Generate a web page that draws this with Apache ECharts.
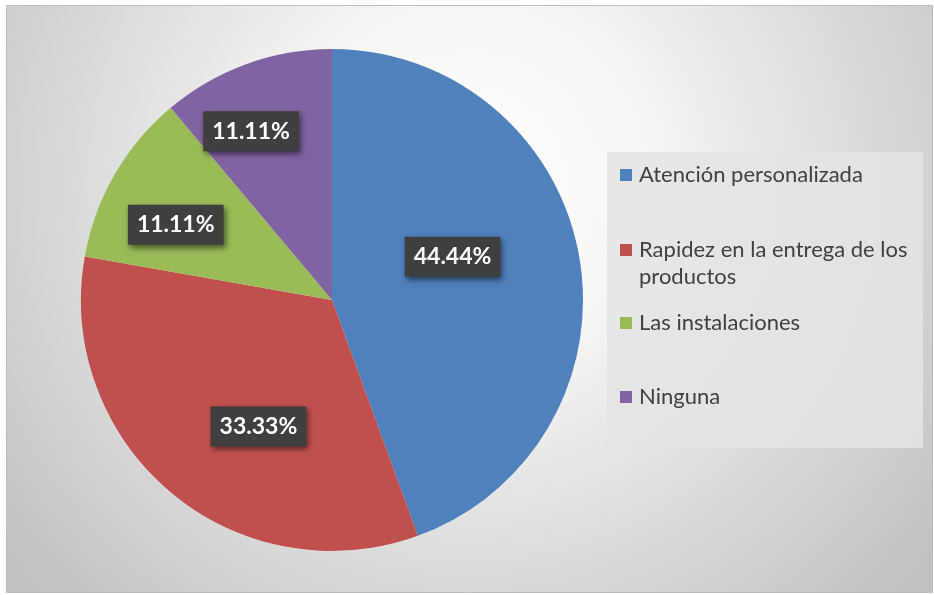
<!DOCTYPE html>
<html>
<head>
<meta charset="utf-8">
<script src="https://cdn.jsdelivr.net/npm/echarts@6/dist/echarts.min.js"></script>
<style>
  html, body { margin: 0; padding: 0; background: #ffffff; }
  #chart { width: 934px; height: 595px; }
</style>
</head>
<body>
<div id="chart"></div>
<script>
// Answer categories and their shares (percent)
const categories = [
  'Atención personalizada',
  'Rapidez en la entrega de los productos',
  'Las instalaciones',
  'Ninguna'
];
const shares = [44.44, 33.33, 11.11, 11.11];
const sliceColors = ['#4f81bd', '#c0504d', '#9bbb59', '#8064a2'];

// Nudges for the inner value boxes, one per slice
const labelNudges = [[-6, -21], [9, 28], [-45, -11], [-37, -48]];

// Top edge of each legend entry; wrapped entries get a blank lead line
// so the marker sits beside their first line
const legendTops = [161.5, 209.5, 309.5, 383.5];
const legendWrapped = [false, true, false, false];

const chart = echarts.init(document.getElementById('chart'), null, { renderer: 'canvas' });

const pieData = categories.map((name, i) => ({
  name: name,
  value: shares[i],
  itemStyle: { color: sliceColors[i] },
  label: { offset: labelNudges[i] }
}));

// One legend block per entry
const legends = categories.map((name, i) => ({
  orient: 'vertical',
  left: 620,
  top: legendTops[i],
  padding: 0,
  itemWidth: 12,
  itemHeight: 12,
  icon: 'rect',
  data: [name],
  selectedMode: false,
  formatter: n => (legendWrapped[i] ? '\n' + n : n),
  textStyle: {
    color: '#404040',
    fontFamily: 'Lato',
    fontSize: 22,
    lineHeight: 27,
    width: 285,
    overflow: 'break',
    padding: [0, 0, 0, 2]
  }
}));

chart.setOption({
  animation: false,
  graphic: [
    {
      type: 'rect',
      z: -10,
      silent: true,
      shape: { x: 6.5, y: 5.5, width: 926, height: 587 },
      style: {
        fill: {
          type: 'radial', x: 0.5, y: 0.3, r: 1.0, global: false,
          colorStops: [
            { offset: 0, color: '#ffffff' },
            { offset: 0.3, color: '#f6f6f6' },
            { offset: 1, color: '#c2c2c2' }
          ]
        },
        stroke: '#bcbcbc',
        lineWidth: 1
      }
    },
    {
      type: 'rect',
      z: -9,
      silent: true,
      shape: { x: 607, y: 152, width: 316, height: 296 },
      style: { fill: 'rgba(228,228,228,0.85)' }
    }
  ],
  legend: legends,
  series: [
    {
      type: 'pie',
      center: [332, 300],
      radius: 251,
      startAngle: 90,
      clockwise: true,
      silent: true,
      data: pieData,
      labelLine: { show: false },
      label: {
        show: true,
        position: 'inside',
        formatter: '{c}%',
        color: '#ffffff',
        fontFamily: 'Lato',
        fontWeight: 'bold',
        fontSize: 23,
        lineHeight: 22,
        backgroundColor: '#3f3f3f',
        padding: [9, 9],
        shadowColor: 'rgba(0,0,0,0.55)',
        shadowBlur: 6,
        shadowOffsetX: 2,
        shadowOffsetY: 3
      },
      emphasis: { disabled: true }
    }
  ]
});
</script>
</body>
</html>
